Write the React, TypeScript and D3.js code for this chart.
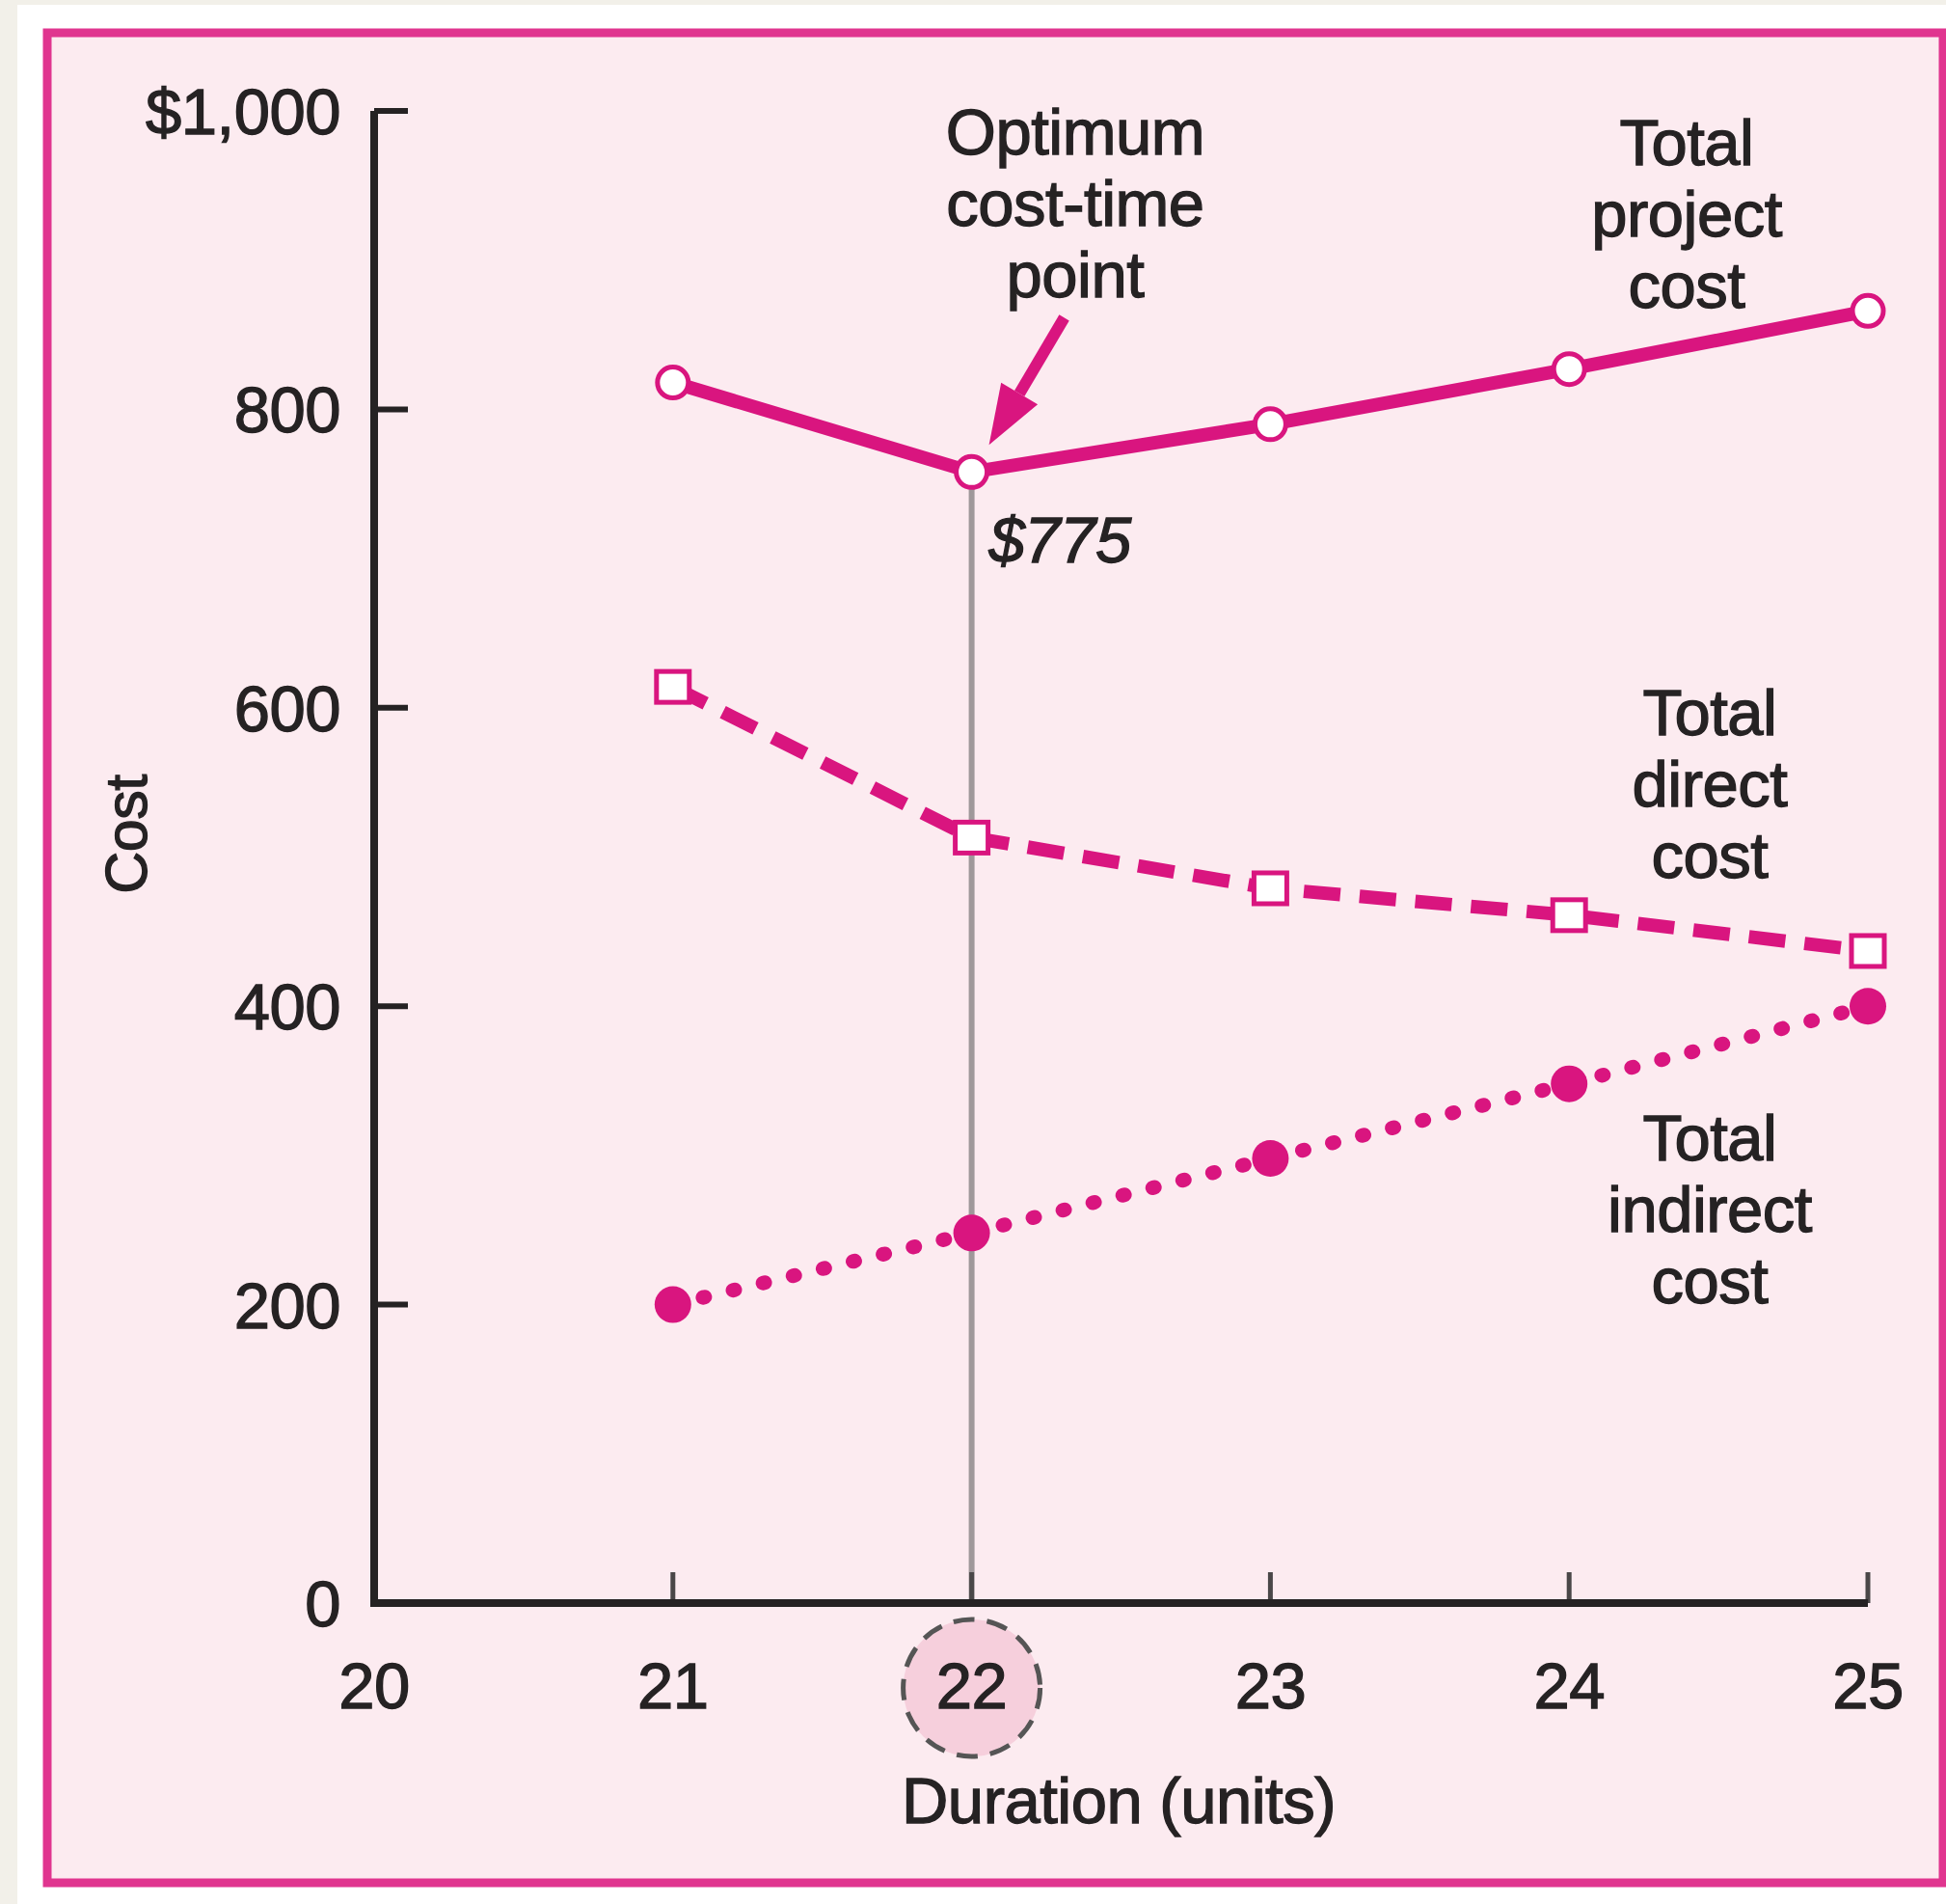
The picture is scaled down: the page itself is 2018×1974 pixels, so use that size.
import React from 'react';
import * as d3 from 'd3';

// values
const durations = [21, 22, 23, 24, 25];
const totalProjectCost = [818, 758, 790, 827, 866];
const totalDirectCost = [614, 513, 479, 461, 437];
const totalIndirectCost = [200, 248, 298, 348, 400];
const yTicks = [0, 200, 400, 600, 800, 1000];
const xTicks = [20, 21, 22, 23, 24, 25];
const optimumDuration = 22;
const optimumLabel = '$775';
const optimumText = ['Optimum', 'cost-time', 'point'];
const projectText = ['Total', 'project', 'cost'];
const directText = ['Total', 'direct', 'cost'];
const indirectText = ['Total', 'indirect', 'cost'];

const W = 2018;
const H = 1974;
const MAGENTA = '#d9157f';
const INK = '#252223';
const FONT = '"Liberation Sans", Arial, Helvetica, sans-serif';
const FS = 67;

const x = d3.scaleLinear().domain([20, 25]).range([388, 1937]);
const y = d3.scaleLinear().domain([0, 1000]).range([1662, 115]);

const line = d3
  .line<number>()
  .x((_, i) => x(durations[i]))
  .y((d) => y(d));

const fmtY = (v: number) => (v === 1000 ? '$1,000' : String(v));

// text is a bit heavy in the original, a thin outline mimics that
const textStyle = { stroke: INK, strokeWidth: 1.3, paintOrder: 'stroke' } as React.CSSProperties;

function Lines({ lines, cx, top, gap = 74 }: { lines: string[]; cx: number; top: number; gap?: number }) {
  return (
    <text x={cx} y={top} textAnchor="middle" fontSize={FS} fill={INK} fontFamily={FONT} letterSpacing={-0.5} style={textStyle}>
      {lines.map((t, i) => (
        <tspan key={i} x={cx} dy={i === 0 ? 0 : gap}>
          {t}
        </tspan>
      ))}
    </text>
  );
}

export default function App() {
  const oi = durations.indexOf(optimumDuration);
  const ox = x(optimumDuration);
  const oy = y(totalProjectCost[oi]);

  // arrow pointing at the optimum point
  const tip: [number, number] = [ox + 18, oy - 28];
  const tail: [number, number] = [ox + 96, oy - 160];
  const ang = Math.atan2(tip[1] - tail[1], tip[0] - tail[0]);
  const hl = 62;
  const hw = 22;
  const base: [number, number] = [tip[0] - hl * Math.cos(ang), tip[1] - hl * Math.sin(ang)];
  const head = [
    tip,
    [base[0] + hw * Math.sin(ang), base[1] - hw * Math.cos(ang)],
    [base[0] - hw * Math.sin(ang), base[1] + hw * Math.cos(ang)],
  ]
    .map((p) => p.join(','))
    .join(' ');

  return (
    <svg width={W} height={H} style={{ position: 'absolute', left: 0, top: 0, display: 'block' }}>
      <rect x={0} y={0} width={W} height={H} fill="#f2f0e9" />
      <rect x={18} y={5} width={W - 18} height={H - 5} fill="#ffffff" />
      <rect x={49} y={34} width={1966} height={1918} fill="#fcebf0" stroke="#e0358f" strokeWidth={9} />

      {/* vertical guide at the optimum */}
      <line x1={ox} x2={ox} y1={oy} y2={y(0)} stroke="#9f989a" strokeWidth={6} />

      {/* axes */}
      <g stroke={INK}>
        {xTicks.slice(1).map((t) => (
          <line key={t} x1={x(t)} x2={x(t)} y1={y(0)} y2={y(0) - 32} strokeWidth={5} stroke="#4a4748" />
        ))}
        {yTicks.slice(1).map((t) => (
          <line key={t} x1={x(20)} x2={x(20) + 35} y1={y(t)} y2={y(t)} strokeWidth={6} />
        ))}
        <path d={`M${x(20)},${y(1000)}V${y(0)}H${x(25)}`} fill="none" strokeWidth={8} />
      </g>

      <g fontFamily={FONT} fontSize={FS} fill={INK} letterSpacing={-0.5} style={textStyle}>
        {yTicks.map((t) => (
          <text key={t} x={353} y={y(t) + 24} textAnchor="end">
            {fmtY(t)}
          </text>
        ))}
      </g>

      {/* highlighted duration */}
      <circle cx={ox} cy={1750} r={71} fill="#f6cfdc" stroke="#555" strokeWidth={5} strokeDasharray="22 13" />
      <g fontFamily={FONT} fontSize={FS} fill={INK} letterSpacing={-0.5} style={textStyle}>
        {xTicks.map((t) => (
          <text key={t} x={x(t)} y={1771} textAnchor="middle">
            {t}
          </text>
        ))}
        <text x={1160} y={1890} textAnchor="middle">
          Duration (units)
        </text>
        <text transform={`translate(152,865) rotate(-90)`} textAnchor="middle" fontSize={61}>
          Cost
        </text>
      </g>

      {/* series */}
      <path d={line(totalIndirectCost) || ''} fill="none" stroke={MAGENTA} strokeWidth={15} strokeLinecap="round" strokeDasharray="2 30" />
      <path d={line(totalDirectCost) || ''} fill="none" stroke={MAGENTA} strokeWidth={14} strokeDasharray="38 20" />
      <path d={line(totalProjectCost) || ''} fill="none" stroke={MAGENTA} strokeWidth={14} strokeLinejoin="round" />

      {totalIndirectCost.map((v, i) => (
        <circle key={i} cx={x(durations[i])} cy={y(v)} r={19} fill={MAGENTA} />
      ))}
      {totalDirectCost.map((v, i) => (
        <rect key={i} x={x(durations[i]) - 17} y={y(v) - 16} width={34} height={32} fill="#fff" stroke={MAGENTA} strokeWidth={5} />
      ))}
      {totalProjectCost.map((v, i) => (
        <circle key={i} cx={x(durations[i])} cy={y(v)} r={16} fill="#fff" stroke={MAGENTA} strokeWidth={5} />
      ))}

      {/* annotations */}
      <line x1={tail[0]} y1={tail[1]} x2={base[0]} y2={base[1]} stroke={MAGENTA} strokeWidth={12} />
      <polygon points={head} fill={MAGENTA} />
      <text x={ox + 18} y={oy + 94} fontFamily={FONT} fontSize={FS} fontStyle="italic" fill={INK} letterSpacing={-0.5} style={textStyle}>
        {optimumLabel}
      </text>
      <Lines lines={optimumText} cx={1115} top={160} />
      <Lines lines={projectText} cx={1749} top={171} />
      <Lines lines={directText} cx={1773} top={762} />
      <Lines lines={indirectText} cx={1773} top={1203} />
    </svg>
  );
}
